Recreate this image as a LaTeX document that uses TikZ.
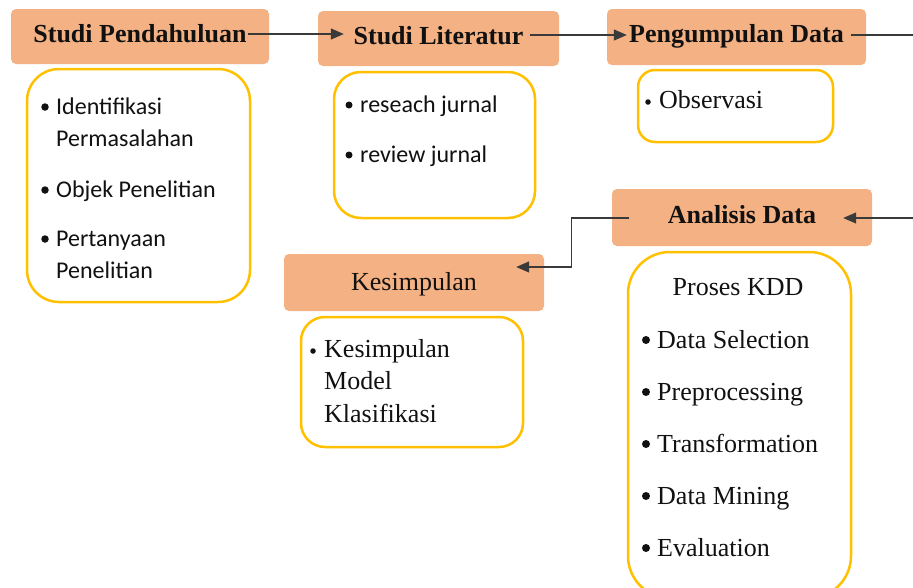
\documentclass[tikz,border=0pt]{standalone}
\usepackage{fontspec}
\setmainfont{Liberation Serif}
\newfontfamily\calfont{Carlito}
\usetikzlibrary{arrows.meta}
\definecolor{headfill}{HTML}{F4B183}
\definecolor{boxline}{HTML}{FFC000}
\definecolor{conncol}{HTML}{3A3A3A}
\definecolor{txt}{HTML}{111111}
\begin{document}
\begin{tikzpicture}[x=1pt,y=-1pt,
  head/.style={fill=headfill, draw=none, rounded corners=5pt, inner sep=0pt,
    text height=17pt, text depth=6pt, text=txt,
    font=\fontsize{26}{30}\selectfont\bfseries},
  headreg/.style={head, text height=19pt, text depth=4pt,
    font=\fontsize{26}{30}\selectfont},
  cbox/.style={draw=boxline, line width=2.5pt, fill=white, inner sep=0pt},
  sans/.style={anchor=base west, inner sep=0pt, text=txt,
    font=\calfont\fontsize{24}{28}\selectfont},
  serif/.style={anchor=base west, inner sep=0pt, text=txt,
    font=\fontsize{26}{30}\selectfont},
  dot/.style={circle, fill=txt, draw=none, inner sep=0pt, outer sep=0pt},
  conn/.style={draw=conncol, line width=1.3pt,
    -{Triangle[length=13pt,width=11pt]}},
  plain/.style={draw=conncol, line width=1.3pt}
]
\useasboundingbox (0,0) rectangle (913,587);
\clip (0,0) rectangle (913,587);
\fill[white] (0,0) rectangle (913,587);

% heading boxes
\node[head, minimum width=258pt, minimum height=55pt] (sp) at (140,36.5) {Studi Pendahuluan};
\node[head, minimum width=241pt, minimum height=55pt] (sl) at (438.5,38.5) {Studi Literatur};
\node[head, minimum width=259pt, minimum height=56pt] (pd) at (736.5,37) {Pengumpulan Data};
\node[head, minimum width=260pt, minimum height=57pt] (ad) at (742,217.5) {Analisis Data};
\node[headreg, minimum width=260pt, minimum height=57pt] (ks) at (414,282.5) {Kesimpulan};

% content boxes
\node[cbox, rounded corners=32pt, minimum width=223pt, minimum height=233pt] (b1) at (138.5,185.5) {};
\node[cbox, rounded corners=27pt, minimum width=201pt, minimum height=146pt] (b2) at (434.5,145) {};
\node[cbox, rounded corners=17pt, minimum width=195pt, minimum height=72pt] (b3) at (735.5,106) {};
\node[cbox, rounded corners=24pt, minimum width=222pt, minimum height=130pt] (b4) at (412,382) {};
\node[cbox, rounded corners=42pt, minimum width=223pt, minimum height=346pt] (b5) at (739.5,425) {};

% Studi Pendahuluan items
\node[dot, minimum size=7.5pt] (d11) at (45,107) {};
\node[sans] (t11) at (56,114) {Identifikasi};
\node[sans] (t12) at (56,146) {Permasalahan};
\node[dot, minimum size=7.5pt] (d12) at (45,190) {};
\node[sans] (t13) at (56,197) {Objek Penelitian};
\node[dot, minimum size=7.5pt] (d13) at (45,239) {};
\node[sans] (t14) at (56,246) {Pertanyaan};
\node[sans] (t15) at (56,278) {Penelitian};

% Studi Literatur items
\node[dot, minimum size=7pt] (d21) at (349,105) {};
\node[sans] (t21) at (360,112) {reseach jurnal};
\node[dot, minimum size=7pt] (d22) at (349,155) {};
\node[sans] (t22) at (360,162) {review jurnal};

% Pengumpulan Data item
\node[dot, minimum size=5.5pt] (d31) at (648,102) {};
\node[serif] (t31) at (659,108) {Observasi};

% Kesimpulan items
\node[dot, minimum size=5.5pt] (d41) at (313,351) {};
\node[serif] (t41) at (324,357) {Kesimpulan};
\node[serif] (t42) at (324,389) {Model};
\node[serif] (t43) at (324,422) {Klasifikasi};

% Analisis Data items
\node[serif, anchor=base] (t50) at (738,295) {Proses KDD};
\node[dot, minimum size=8pt] (d51) at (646,340) {};
\node[serif] (t51) at (657,348) {Data Selection};
\node[dot, minimum size=8pt] (d52) at (646,392) {};
\node[serif] (t52) at (657,400) {Preprocessing};
\node[dot, minimum size=8pt] (d53) at (646,444) {};
\node[serif] (t53) at (657,452) {Transformation};
\node[dot, minimum size=8pt] (d54) at (646,496) {};
\node[serif] (t54) at (657,504) {Data Mining};
\node[dot, minimum size=8pt] (d55) at (646,548) {};
\node[serif] (t55) at (657,556) {Evaluation};

% connectors
\coordinate (eR1) at (914,35);
\coordinate (eR2) at (914,218);
\draw[conn] ([xshift=-21pt,yshift=2.5pt]sp.east) -- ([xshift=26pt,yshift=4.5pt]sl.west);
\draw[conn] ([xshift=-29pt,yshift=3.5pt]sl.east) -- ([xshift=20pt,yshift=2pt]pd.west);
\draw[plain] ([xshift=-15pt,yshift=2pt]pd.east) -- (eR1);
\draw[conn] (eR2) -- ([xshift=-29pt,yshift=-0.5pt]ad.east);
\draw[conn] ([xshift=17pt,yshift=-0.5pt]ad.west) -- ++(-57,0) |- ([xshift=-28pt,yshift=15.5pt]ks.east);
\end{tikzpicture}
\end{document}
